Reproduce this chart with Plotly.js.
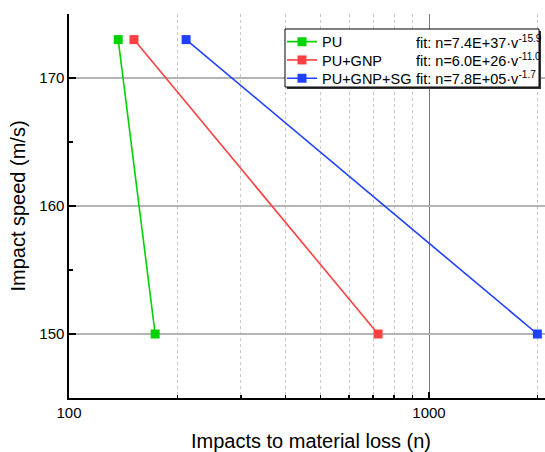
<!DOCTYPE html>
<html><head><meta charset="utf-8">
<script src="https://cdn.plot.ly/plotly-3.0.1.min.js"></script>
<style>html,body{margin:0;padding:0;overflow:hidden;background:#fff;}#chart{width:553px;height:452px;}</style>
</head><body><div id="chart"></div>
<script>
var speed = [173, 150];
var nPU = [137, 173.5];
var nPUGNP = [151.5, 722];
var nPUGNPSG = [211.5, 2000];
var seriesNames = ['PU', 'PU+GNP', 'PU+GNP+SG'];
var fitTexts = ['fit: n=7.4E+37·v<sup>-15.9</sup>', 'fit: n=6.0E+26·v<sup>-11.0</sup>', 'fit: n=7.8E+05·v<sup>-1.7</sup>'];
var colors = ['#00d400', '#ff4040', '#2040ff'];
var seriesX = [nPU, nPUGNP, nPUGNPSG];

var FONT = 'Liberation Sans, Arial, sans-serif';
var legendKeys = ['legend', 'legend2', 'legend3'];
var traces = seriesX.map(function (xs, i) {
  return {
    x: xs, y: speed, name: seriesNames[i], type: 'scatter', mode: 'lines+markers',
    line: {color: colors[i], width: 1.6},
    marker: {symbol: 'square', size: 9, color: colors[i]},
    legend: legendKeys[i], cliponaxis: false
  };
});

var L = 69, T = 14, W = 484, H = 384;
function px(x) { return (x - L) / W; }
function py(y) { return (T + H - y) / H; }

var rowY = [41.7, 60, 78.3];
var layout = {
  width: 553, height: 452,
  margin: {l: L, r: 0, t: T, b: 452 - T - H, pad: 0},
  paper_bgcolor: '#fff', plot_bgcolor: '#fff',
  font: {family: FONT, color: '#000', size: 15},
  showlegend: true,
  xaxis: {
    type: 'log', range: [2, 2 + 484 / 360],
    tickvals: [100, 1000], ticktext: ['100', '1000'],
    ticks: 'inside', ticklen: 6, tickwidth: 1.5, tickcolor: '#000',
    showline: true, linecolor: '#000', linewidth: 1.6, mirror: false,
    showgrid: true, gridcolor: '#7a7a7a', gridwidth: 1,
    zeroline: false,
    tickfont: {size: 15, family: FONT},
    minor: {tickvals: [200, 300, 400, 500, 600, 700, 800, 900, 2000], ticks: 'inside', ticklen: 3, tickcolor: '#000',
            showgrid: true, gridcolor: '#c8c8c8', gridwidth: 1, griddash: 'dot'},
    title: {text: 'Impacts to material loss (n)', font: {size: 20, family: FONT}, standoff: 14}
  },
  yaxis: {
    range: [145, 175],
    tickvals: [150, 160, 170],
    ticks: 'inside', ticklen: 7, tickwidth: 1.5, tickcolor: '#000',
    showline: true, linecolor: '#000', linewidth: 1.6,
    showgrid: true, gridcolor: '#b4b4b4', gridwidth: 1.3,
    zeroline: false,
    tickfont: {size: 15, family: FONT},
    minor: {tickvals: [155, 165], ticks: 'inside', ticklen: 4, tickcolor: '#000', showgrid: false},
    title: {text: 'Impact speed (m/s)', font: {size: 20, family: FONT}, standoff: 8}
  },
  shapes: [
    {type: 'rect', xref: 'paper', yref: 'paper', x0: px(287), x1: px(541), y0: py(89), y1: py(31),
     fillcolor: '#333', line: {width: 0}, layer: 'above'},
    {type: 'rect', xref: 'paper', yref: 'paper', x0: px(285), x1: px(539), y0: py(87), y1: py(29),
     fillcolor: '#fff', line: {color: '#000', width: 1}, layer: 'above'}
  ],
  annotations: fitTexts.map(function (t, i) {
    return {xref: 'paper', yref: 'paper', x: px(413.5), y: py(rowY[i]), xanchor: 'left', yanchor: 'middle',
            text: t, showarrow: false, font: {size: 14.5, family: FONT}};
  })
};
legendKeys.forEach(function (k, i) {
  layout[k] = {x: px(282), y: py(rowY[i]), xanchor: 'left', yanchor: 'middle',
               bgcolor: 'rgba(0,0,0,0)', borderwidth: 0, font: {size: 14.5, family: FONT}};
});

Plotly.newPlot('chart', traces, layout, {displayModeBar: false, staticPlot: true});
</script>
</body></html>
